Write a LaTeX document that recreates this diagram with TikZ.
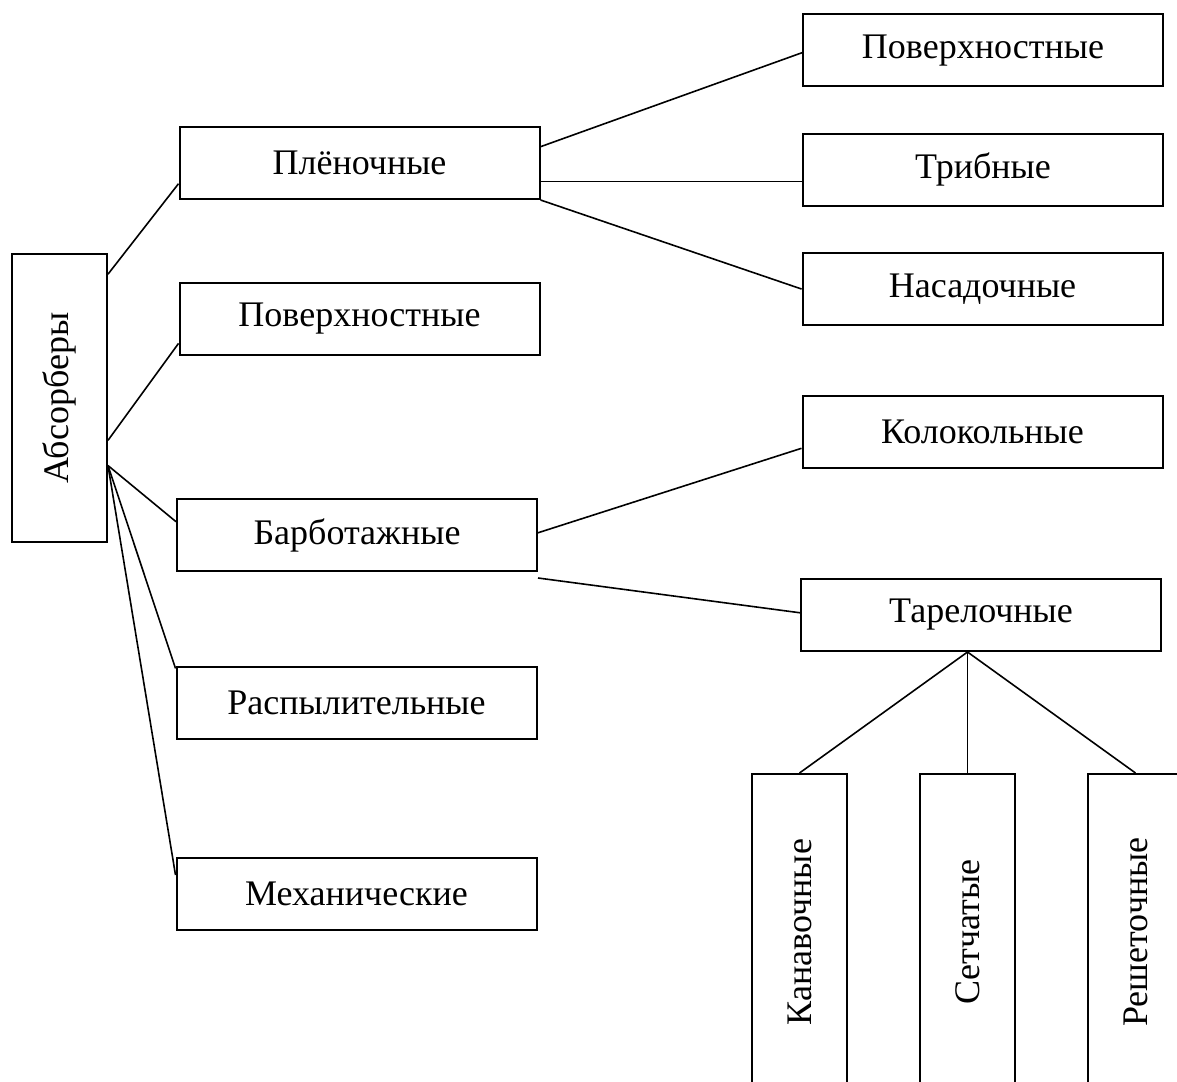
\documentclass[tikz,border=0pt]{standalone}
\usepackage{fontspec}
\setmainfont{Liberation Serif}
\usetikzlibrary{calc}
\tikzset{
  hbox/.style={draw,line width=1pt,minimum width=180pt,minimum height=36pt,inner sep=0pt,
    font=\fontsize{18}{21}\selectfont},
  vbox/.style={draw,line width=1pt,minimum width=158pt,minimum height=47.5pt,inner sep=0pt,
    rotate=90,font=\fontsize{18}{21}\selectfont},
  link/.style={line width=.8pt}
}
\begin{document}
\begin{tikzpicture}[x=.5pt,y=-.5pt]
  \useasboundingbox (0,0) rectangle (1177,1081);
  \clip (0,0) rectangle (1177,1081);
  % main box
  \node[vbox,minimum width=144pt] (abs) at (59.5,398) {Абсорберы};
  % first level
  \node[hbox] (plen) at (359.5,163) {Плёночные};
  \node[hbox] (povL) at (359.5,319) {Поверхностные};
  \node[hbox] (barb) at (357,535) {Барботажные};
  \node[hbox] (rasp) at (356.5,702.5) {Распылительные};
  \node[hbox] (meh) at (356.5,893.5) {Механические};
  % second level
  \node[hbox] (povR) at (983,50.5) {Поверхностные};
  \node[hbox] (trib) at (983,169.5) {Трибные};
  \node[hbox] (nas) at (982.5,289) {Насадочные};
  \node[hbox] (kol) at (982.5,432) {Колокольные};
  \node[hbox] (tar) at (981,615) {Тарелочные};
  % third level
  \node[vbox] (kan) at (799.5,932) {Канавочные};
  \node[vbox] (set) at (967.5,932) {Сетчатые};
  \node[vbox] (resh) at (1135.5,932) {Решеточные};
  % connectors (abs is turned: its right side runs from south east to south west)
  \draw[link] ($(abs.south east)!.073!(abs.south west)$) -- ($(plen.north west)!.78!(plen.south west)$);
  \draw[link] ($(abs.south east)!.646!(abs.south west)$) -- ($(povL.north west)!.83!(povL.south west)$);
  \coordinate (hub) at ($(abs.south east)!.733!(abs.south west)$);
  \draw[link] (hub) -- ($(barb.north west)!.32!(barb.south west)$);
  \draw[link] (hub) -- ($(rasp.north west)!.04!(rasp.south west)$);
  \draw[link] (hub) -- ($(meh.north west)!.25!(meh.south west)$);
  \draw[link] ($(plen.north east)!.28!(plen.south east)$) -- ($(povR.north west)!.53!(povR.south west)$);
  \coordinate (pt) at ($(plen.north east)!.75!(plen.south east)$);
  \draw[link] (pt) -- (pt -| trib.west);
  \draw[link] (plen.south east) -- (nas.west);
  \draw[link] ($(barb.north east)!.47!(barb.south east)$) -- ($(kol.north west)!.72!(kol.south west)$);
  \draw[link] ($(barb.south east)+(0,6)$) -- ($(tar.north west)!.47!(tar.south west)$);
  \coordinate (thub) at (set.east |- tar.south);
  \draw[link] (thub) -- (kan.east);
  \draw[link] (thub) -- (set.east);
  \draw[link] (thub) -- (resh.east);
\end{tikzpicture}
\end{document}
